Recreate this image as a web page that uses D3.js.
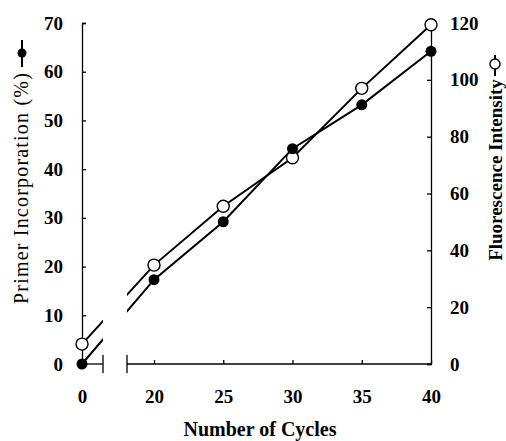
<!DOCTYPE html>
<html>
<head>
<meta charset="utf-8">
<script src="https://cdn.jsdelivr.net/npm/d3@7"></script>
<style>
  body { margin: 0; background: #fff; }
  text { font-family: "Liberation Serif", "Times New Roman", serif; fill: #000; }
</style>
</head>
<body>
<div id="chart"></div>
<script>
const width = 506, height = 441;

// data
const cycles = [0, 20, 25, 30, 35, 40];
const primer = [0, 17.3, 29.2, 44.2, 53.2, 64.2];      // left axis, filled circles
const fluor = [7, 34.8, 55.5, 72.6, 97, 119.4];        // right axis, open circles
const xTicks = [0, 20, 25, 30, 35, 40];
const leftTicks = [0, 10, 20, 30, 40, 50, 60, 70];
const rightTicks = [0, 20, 40, 60, 80, 100, 120];

const svg = d3.select("#chart").append("svg").attr("width", width).attr("height", height);

// broken x axis: 0 sits alone, then 20..40
const x = d3.scaleLinear().domain([0, 20, 40]).range([82, 154, 431]);
const yL = d3.scaleLinear().domain([0, 70]).range([364, 23]);
const yR = d3.scaleLinear().domain([0, 120]).range([364, 23]);
const breakA = 103, breakB = 127;

// left axis
const gL = svg.append("g").attr("transform", `translate(${x(0)},0)`)
    .call(d3.axisLeft(yL).tickValues(leftTicks).tickSizeInner(-4).tickSizeOuter(-4).tickPadding(19));
gL.selectAll("text").style("font-size", "19px").style("font-weight", "bold");

// right axis
const gR = svg.append("g").attr("transform", `translate(${x(40)},0)`)
    .call(d3.axisRight(yR).tickValues(rightTicks).tickSizeInner(-4).tickSizeOuter(-4).tickPadding(19));
gR.selectAll("text").style("font-size", "19px").style("font-weight", "bold");

// bottom axis (labels + small inward ticks), domain drawn by hand because of the break
const gB = svg.append("g").attr("transform", `translate(0,${yL(0)})`)
    .call(d3.axisBottom(x).tickValues(xTicks).tickSize(-4).tickPadding(26));
gB.select(".domain").remove();
gB.selectAll("text").style("font-size", "19px").style("font-weight", "bold");

svg.selectAll("path.domain, .tick line").attr("stroke", "#000").attr("stroke-width", 1.3);

const axisY = yL(0);
svg.append("line").attr("x1", x(0)).attr("x2", breakA).attr("y1", axisY).attr("y2", axisY)
    .attr("stroke", "#000").attr("stroke-width", 1.3);
svg.append("line").attr("x1", breakB).attr("x2", x(40)).attr("y1", axisY).attr("y2", axisY)
    .attr("stroke", "#000").attr("stroke-width", 1.3);
[breakA, breakB].forEach(bx => {
    svg.append("line").attr("x1", bx).attr("x2", bx).attr("y1", axisY - 9).attr("y2", axisY + 9)
        .attr("stroke", "#000").attr("stroke-width", 1.3);
});

// clip the data lines so they skip the axis break
const clip = svg.append("defs").append("clipPath").attr("id", "gap");
clip.append("rect").attr("x", 0).attr("y", 0).attr("width", breakA).attr("height", height);
clip.append("rect").attr("x", breakB).attr("y", 0).attr("width", width - breakB).attr("height", height);

const linePrimer = d3.line().x((d, i) => x(cycles[i])).y(d => yL(d));
const lineFluor = d3.line().x((d, i) => x(cycles[i])).y(d => yR(d));

svg.append("path").datum(primer).attr("d", linePrimer).attr("clip-path", "url(#gap)")
    .attr("fill", "none").attr("stroke", "#000").attr("stroke-width", 2);
svg.append("path").datum(fluor).attr("d", lineFluor).attr("clip-path", "url(#gap)")
    .attr("fill", "none").attr("stroke", "#000").attr("stroke-width", 2);

svg.selectAll(".pt-f").data(fluor).enter().append("circle")
    .attr("cx", (d, i) => x(cycles[i])).attr("cy", d => yR(d)).attr("r", 6)
    .attr("fill", "#fff").attr("stroke", "#000").attr("stroke-width", 1.4);
svg.selectAll(".pt-p").data(primer).enter().append("circle")
    .attr("cx", (d, i) => x(cycles[i])).attr("cy", d => yL(d)).attr("r", 5.5)
    .attr("fill", "#000");

// axis titles
svg.append("text")
    .attr("transform", "translate(28,188) rotate(-90)")
    .attr("text-anchor", "middle")
    .style("font-size", "20px").style("letter-spacing", "1.2px")
    .text("Primer Incorporation (%)");
svg.append("line").attr("x1", 22).attr("x2", 22).attr("y1", 40).attr("y2", 67)
    .attr("stroke", "#000").attr("stroke-width", 2);
svg.append("circle").attr("cx", 22).attr("cy", 53).attr("r", 4.5).attr("fill", "#000");

svg.append("text")
    .attr("transform", "translate(502,170) rotate(-90)")
    .attr("text-anchor", "middle")
    .style("font-size", "19px").style("font-weight", "bold")
    .text("Fluorescence Intensity");
svg.append("line").attr("x1", 495).attr("x2", 495).attr("y1", 55).attr("y2", 76)
    .attr("stroke", "#000").attr("stroke-width", 2);
svg.append("circle").attr("cx", 495).attr("cy", 64).attr("r", 5)
    .attr("fill", "#fff").attr("stroke", "#000").attr("stroke-width", 1.4);

svg.append("text")
    .attr("x", 260).attr("y", 436)
    .attr("text-anchor", "middle")
    .style("font-size", "20px").style("font-weight", "bold")
    .text("Number of Cycles");
</script>
</body>
</html>
